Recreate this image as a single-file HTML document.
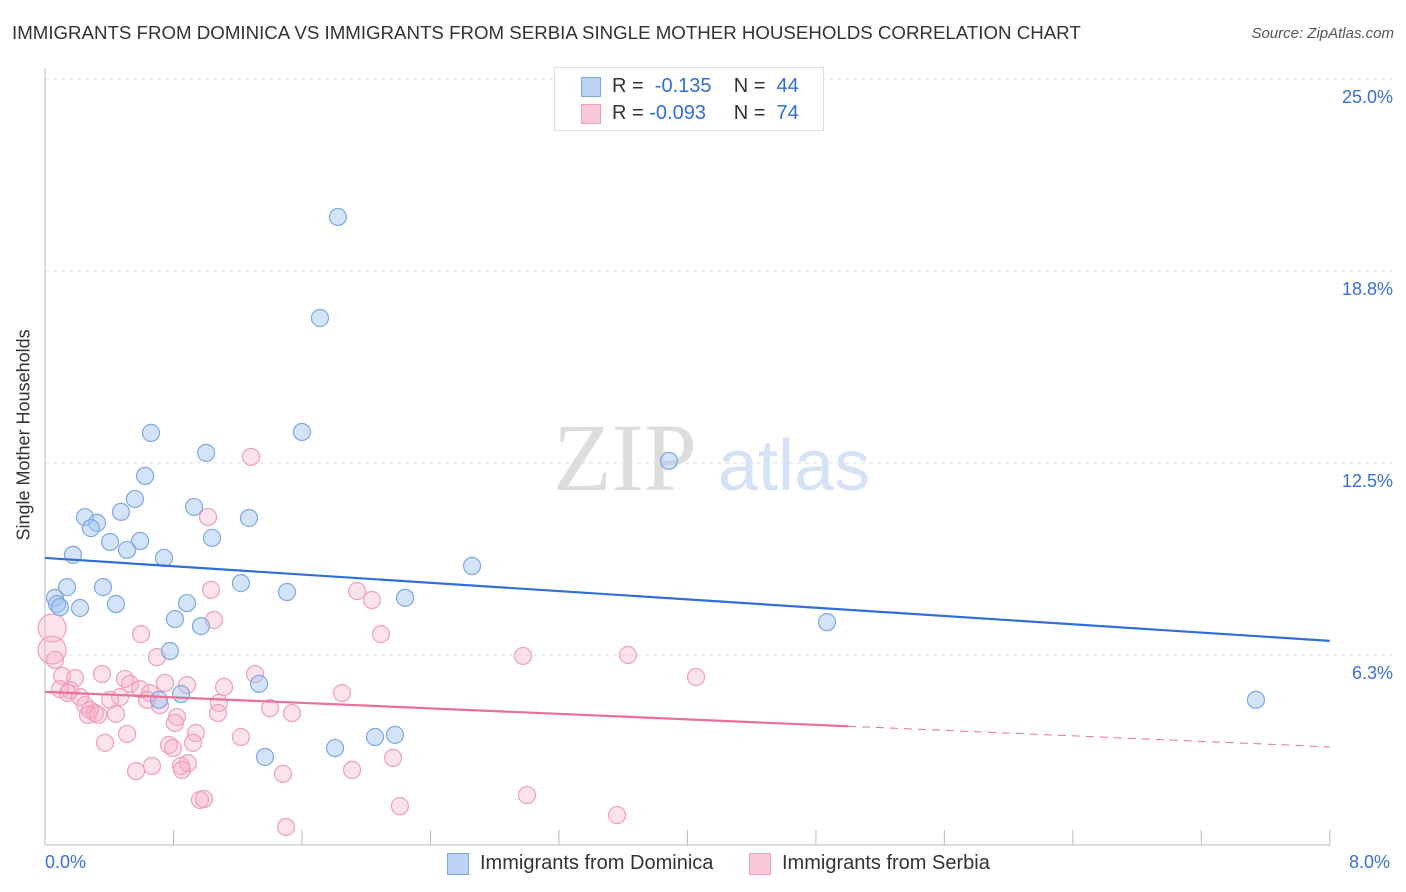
<!DOCTYPE html>
<html><head><meta charset="utf-8"><style>
body{margin:0;background:#fff;font-family:"Liberation Sans",sans-serif;}
#c{position:relative;width:1406px;height:892px;overflow:hidden;}
.t{position:absolute;white-space:nowrap;}
</style></head><body>
<div id="c">
<div class="t" style="left:12px;top:22px;font-size:18.7px;color:#333">IMMIGRANTS FROM DOMINICA VS IMMIGRANTS FROM SERBIA SINGLE MOTHER HOUSEHOLDS CORRELATION CHART</div>
<div class="t" style="right:12px;top:25px;font-size:15px;color:#555;font-style:italic">Source: ZipAtlas.com</div>
<svg id="s" width="1406" height="892" style="position:absolute;left:0;top:0"></svg>
</div>
<script>
const blueX=[1.824,1.712,0.660,1.600,1.003,3.885,0.623,0.560,0.928,0.473,0.249,0.324,0.286,1.270,0.405,0.592,1.040,0.511,0.174,0.741,2.659,0.137,0.361,1.220,1.507,2.242,0.062,0.075,0.093,0.218,0.442,0.884,0.809,0.971,4.869,0.778,1.333,0.847,0.710,7.540,2.179,2.055,1.806,1.370];
const blueY=[20.51,17.22,13.48,13.51,12.83,12.57,12.08,11.33,11.07,10.91,10.74,10.55,10.38,10.71,9.93,9.96,10.06,9.67,9.51,9.41,9.15,8.46,8.46,8.59,8.30,8.11,8.11,7.91,7.81,7.78,7.91,7.94,7.42,7.19,7.32,6.38,5.31,4.98,4.79,4.79,3.65,3.58,3.22,2.93];
const pinkX=[1.283,1.015,1.034,1.943,2.036,1.052,2.092,0.598,0.044,0.044,0.062,0.697,2.976,3.630,1.308,4.054,0.355,0.106,0.187,0.498,0.529,0.747,0.884,1.115,0.592,0.093,0.156,0.143,0.218,0.654,0.467,0.405,0.635,0.716,1.849,1.083,0.249,0.280,0.311,0.268,0.330,0.442,0.822,1.077,1.401,1.538,0.809,0.511,0.940,1.220,0.374,0.922,0.772,0.797,0.890,0.847,0.666,0.853,0.567,1.912,1.482,2.167,3.001,0.965,0.990,2.210,3.562,1.501];
const pinkY=[12.70,10.74,8.37,8.33,8.04,7.39,6.93,6.93,7.13,6.41,6.09,6.18,6.22,6.25,5.63,5.53,5.63,5.57,5.50,5.47,5.31,5.34,5.27,5.21,5.14,5.14,5.11,5.01,4.88,5.01,4.88,4.79,4.79,4.62,5.01,4.69,4.62,4.46,4.36,4.30,4.30,4.33,4.23,4.36,4.52,4.36,4.04,3.68,3.71,3.58,3.39,3.39,3.32,3.22,2.73,2.64,2.64,2.51,2.47,2.51,2.38,2.90,1.69,1.53,1.56,1.33,1.04,0.65];
const pinkBig=[8,9];
const yTicks=[25,18.75,12.5,6.25];
const yTickLabels=["25.0%","18.8%","12.5%","6.3%"];
const blueTrend=[9.41,6.71];
const pinkTrend=[5.05,3.26];
const pinkSolidEnd=5.0;
const X=v=>45+v*160.6, Y=v=>847-v*30.72;
const s=document.getElementById('s');const NS='http://www.w3.org/2000/svg';
function el(t,a,name){const e=document.createElementNS(NS,t);for(const k in a)e.setAttribute(k,a[k]);


s.appendChild(e);return e;}
yTicks.forEach((v,i)=>{el('line',{x1:45,x2:1392,y1:Y(v),y2:Y(v),stroke:'#ddd','stroke-dasharray':'4,4'},'gridline');
const t=el('text',{x:1393,y:Y(v)+24,'text-anchor':'end','font-size':18,fill:'#3a6fd8'},'y-tick-label');t.textContent=yTickLabels[i];});
el('line',{x1:45,x2:45,y1:68,y2:845,stroke:'#bbb'},'y-axis-line');
el('line',{x1:45,x2:1330,y1:845,y2:845,stroke:'#bbb'},'x-axis-line');
for(let i=0;i<=10;i++){el('line',{x1:X(i*0.8),x2:X(i*0.8),y1:830,y2:845,stroke:'#bbb'},'x-tick');}
let w=el('text',{x:553,y:490,'font-size':96,fill:'#ddd','font-family':'Liberation Serif,serif'},'watermark-zip');w.textContent='ZIP';
w=el('text',{x:718,y:490,'font-size':72,fill:'#d6e3f6'},'watermark-atlas');w.textContent='atlas';
pinkX.forEach((x,i)=>{el('circle',{cx:X(x),cy:Y(pinkY[i]),r:pinkBig.includes(i)?14:8.5,fill:'rgba(246,172,198,0.35)',stroke:'#eea0bc','stroke-width':1.2},'serbia-point');});
blueX.forEach((x,i)=>{el('circle',{cx:X(x),cy:Y(blueY[i]),r:8.5,fill:'rgba(160,196,240,0.45)',stroke:'#7ea8e2','stroke-width':1.2},'dominica-point');});
el('line',{x1:X(0),y1:Y(blueTrend[0]),x2:X(8),y2:Y(blueTrend[1]),stroke:'#2f6fd6','stroke-width':2.2},'dominica-trendline');
const pe=pinkTrend[0]+(pinkTrend[1]-pinkTrend[0])*pinkSolidEnd/8;
el('line',{x1:X(0),y1:Y(pinkTrend[0]),x2:X(pinkSolidEnd),y2:Y(pe),stroke:'#e8709b','stroke-width':2.2},'serbia-trendline');
el('line',{x1:X(pinkSolidEnd),y1:Y(pe),x2:X(8),y2:Y(pinkTrend[1]),stroke:'#e8709b','stroke-width':1,'stroke-dasharray':'8,6'},'serbia-trendline-extension');
</script>
<div class="t" style="left:554px;top:67px;width:268px;height:62px;border:1px solid #ddd;background:#fff">
<div style="position:absolute;left:26px;top:9px;width:18px;height:18px;background:#bcd3f3;border:1px solid #7ea8e2"></div>
<div class="t" style="left:57px;top:7px;font-size:20px;color:#333">R = &nbsp;<span style="color:#2f6fd6">-0.135</span>&nbsp;&nbsp;&nbsp; N = &nbsp;<span style="color:#2f6fd6">44</span></div>
<div style="position:absolute;left:26px;top:36px;width:18px;height:18px;background:#f9c8d8;border:1px solid #eea0bc"></div>
<div class="t" style="left:57px;top:34px;font-size:20px;color:#333">R = <span style="color:#2f6fd6">-0.093</span>&nbsp;&nbsp;&nbsp;&nbsp; N = &nbsp;<span style="color:#2f6fd6">74</span></div>
</div>
<div class="t" style="left:45px;top:852px;font-size:18px;color:#3a6fd8">0.0%</div>
<div class="t" style="left:1349px;top:852px;font-size:18px;color:#3a6fd8">8.0%</div>
<div class="t" style="left:-61px;top:445px;transform:rotate(-90deg);font-size:18px;color:#333;width:170px;text-align:center">Single Mother Households</div>
<div style="position:absolute;left:447px;top:853px;width:20px;height:20px;background:#bcd3f3;border:1px solid #7ea8e2"></div>
<div class="t" style="left:480px;top:852px;font-size:20px;color:#333">Immigrants from Dominica</div>
<div style="position:absolute;left:749px;top:853px;width:20px;height:20px;background:#f9c8d8;border:1px solid #eea0bc"></div>
<div class="t" style="left:782px;top:852px;font-size:20px;color:#333">Immigrants from Serbia</div>
</body></html>
